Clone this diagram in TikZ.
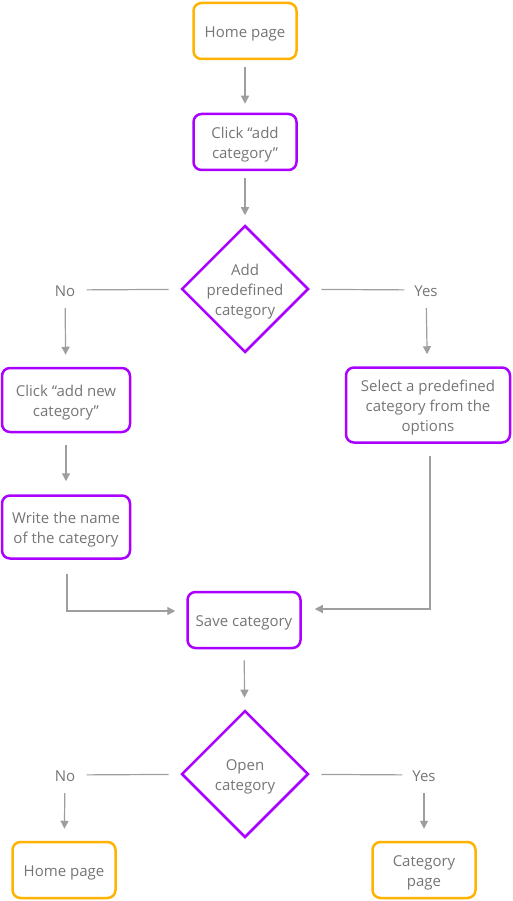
\documentclass[tikz,border=0pt]{standalone}
\usepackage{fontspec}
\setmainfont{Open Sans}
\usetikzlibrary{arrows.meta,shapes.geometric}
\definecolor{pageorange}{HTML}{FFB300}
\definecolor{actpurple}{HTML}{AA00FF}
\definecolor{linkgray}{HTML}{9E9E9E}
\definecolor{textgray}{HTML}{757575}
\begin{document}
\begin{tikzpicture}[
       x=1pt, y=1pt,
       font=\fontsize{15}{20}\selectfont,
       text=textgray,
       linebox/.style={
         align=center,
         text height=18pt,
         text depth=4.4pt
       },
       twolines/.style={text height=38pt},
       threelines/.style={text height=58pt},
       pagebox/.style={
         linebox,
         draw=pageorange,
         line width=2.5pt,
         rounded corners=8pt,
         inner sep=0pt
       },
       actbox/.style={
         linebox,
         draw=actpurple,
         line width=2.5pt,
         rounded corners=8pt,
         inner sep=0pt
       },
       decision/.style={
         diamond,
         draw=actpurple,
         line width=2.5pt,
         inner sep=0pt,
         minimum width=127pt,
         minimum height=127pt
       },
       answer/.style={
         linebox,
         inner sep=0pt,
         minimum width=43pt,
         minimum height=36pt
       },
       link/.style={
         draw=linkgray,
         line width=1.2pt,
         -{Triangle[length=8pt,width=8pt]},
         shorten <=7pt,
         shorten >=9pt
       },
       plain/.style={
         draw=linkgray,
         line width=1.2pt,
         shorten <=12pt
       }
     ]

       \useasboundingbox (0,0) rectangle (512,-901);

       \node (home) at (245,-31) [pagebox,minimum width=103pt,minimum height=56pt] {Home page};
       \node (click) at (245,-142) [actbox,twolines,minimum width=103pt,minimum height=56pt] {Click “add\\category”};
       \node (predef) at (245,-289) [decision,label={[linebox,threelines]center:Add\\predefined\\category}] {};
       \node (no1) at (65,-290) [answer] {No};
       \node (yes1) at (426,-290) [answer] {Yes};

       \node (clicknew) at (66,-400) [actbox,twolines,minimum width=128pt,minimum height=64pt] {Click “add new\\category”};
       \node (select) at (428,-405) [actbox,threelines,minimum width=164pt,minimum height=75pt] {Select a predefined\\category from the\\options};
       \node (write) at (66,-527) [actbox,twolines,minimum width=128pt,minimum height=63pt] {Write the name\\of the category};
       \node (save) at (244,-620) [actbox,minimum width=113pt,minimum height=56pt] {Save category};

       \node (open) at (245,-774) [decision,label={[linebox,twolines]center:Open\\category}] {};
       \node (no2) at (65,-775) [answer] {No};
       \node (yes2) at (424,-775) [answer] {Yes};
       \node (homeend) at (64,-870) [pagebox,minimum width=103pt,minimum height=56pt] {Home page};
       \node (catpage) at (424,-870) [pagebox,twolines,minimum width=103pt,minimum height=56pt] {Category\\page};

       \draw[link] (home) -- (click);
       \draw[link] (click) -- (predef);

       \draw[plain] (predef) -- (no1);
       \draw[plain] (predef) -- (yes1);
       \draw[link,shorten <=0pt,shorten >=12pt] (no1) -- (clicknew);
       \draw[link,shorten <=0pt,shorten >=12pt] (yes1) -- (select);

       \draw[link,shorten <=12pt,shorten >=13pt] (clicknew) -- (write);
       \draw[link,shorten <=14pt,shorten >=11pt] ([xshift=1pt]write.south) |- ([yshift=9pt]save.west);
       \draw[link,shorten <=12pt,shorten >=13pt] ([xshift=2pt]select.south) |- ([yshift=11pt]save.east);

       \draw[link,shorten <=11pt,shorten >=12pt] (save) -- (open);
       \draw[plain] (open) -- (no2);
       \draw[plain] (open) -- (yes2);
       \draw[link,shorten <=0pt,shorten >=12pt] (no2) -- (homeend);
       \draw[link,shorten <=0pt,shorten >=12pt] (yes2) -- (catpage);

\end{tikzpicture}
\end{document}
